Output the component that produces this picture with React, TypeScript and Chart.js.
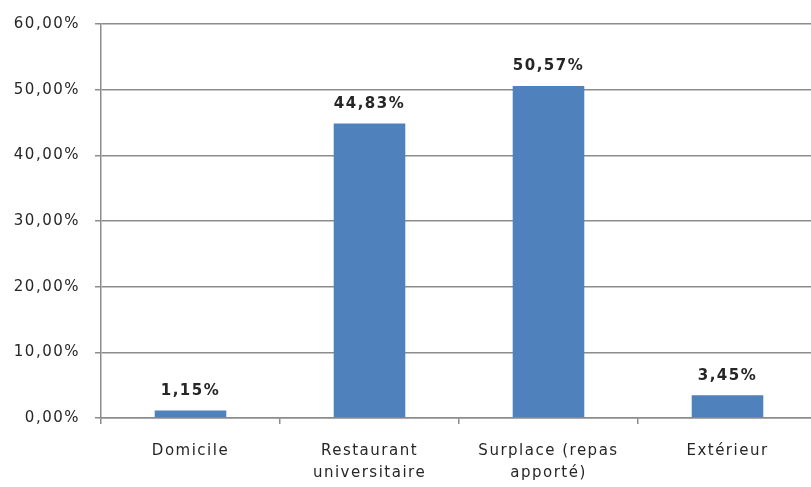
import React, { useEffect, useRef } from "react";
import { Chart, registerables } from "chart.js";

Chart.register(...registerables);

const categories: (string | string[])[] = [
  "Domicile",
  ["Restaurant", "universitaire"],
  ["Surplace (repas", "apporté)"],
  "Extérieur",
];
const values: number[] = [1.15, 44.83, 50.57, 3.45];
const yMin = 0;
const yMax = 60;
const yStep = 10;

const fmt = (v: number) => v.toFixed(2).replace(".", ",") + "%";

const FONT = "'DejaVu Sans', Verdana, sans-serif";
const TEXT = "#262626";
const GRID = "#8c8c8c";
const BAR = "#4f81bd";

const spacingPlugin = {
  id: "spacing",
  beforeUpdate(chart: any) {
    chart.ctx.letterSpacing = "1.5px";
  },
  beforeDraw(chart: any) {
    chart.ctx.letterSpacing = "1.5px";
  },
};

const labelPlugin = {
  id: "valueLabels",
  afterDatasetsDraw(chart: any) {
    const ctx = chart.ctx;
    const meta = chart.getDatasetMeta(0);
    const data = chart.data.datasets[0].data as number[];
    ctx.save();
    ctx.letterSpacing = "1.5px";
    ctx.font = `bold 15px ${FONT}`;
    ctx.fillStyle = TEXT;
    ctx.textAlign = "center";
    ctx.textBaseline = "bottom";
    meta.data.forEach((bar: any, i: number) => {
      ctx.fillText(fmt(data[i]), bar.x, bar.y - 12);
    });
    ctx.restore();
  },
};

export default function App() {
  const ref = useRef<HTMLCanvasElement | null>(null);
  useEffect(() => {
    if (!ref.current) return;
    const chart = new Chart(ref.current, {
      type: "bar",
      data: {
        labels: categories,
        datasets: [
          {
            data: values,
            backgroundColor: BAR,
            barPercentage: 0.4,
            categoryPercentage: 1,
          },
        ],
      },
      options: {
        animation: false,
        responsive: false,
        maintainAspectRatio: false,
        layout: { padding: { top: 24, right: 4, left: 0, bottom: 0 } },
        plugins: { legend: { display: false }, tooltip: { enabled: false } },
        scales: {
          x: {
            border: { display: true, color: GRID, width: 1.5 },
            grid: {
              drawOnChartArea: false,
              drawTicks: true,
              tickLength: 6,
              color: GRID,
              lineWidth: 1.5,
            },
            ticks: {
              color: TEXT,
              font: { family: FONT, size: 15, lineHeight: 1.45 },
              padding: 16,
              maxRotation: 0,
              autoSkip: false,
            },
            afterFit(scale: any) {
              scale.height = 69;
            },
          },
          y: {
            min: yMin,
            max: yMax,
            border: { display: true, color: GRID, width: 1.5 },
            grid: {
              color: GRID,
              lineWidth: 1.5,
              drawTicks: true,
              tickLength: 6,
            },
            ticks: {
              stepSize: yStep,
              color: TEXT,
              font: { family: FONT, size: 15 },
              padding: 15,
              callback: (v: any) => fmt(Number(v)),
            },
            afterFit(scale: any) {
              scale.width = 101;
            },
          },
        },
      },
      plugins: [spacingPlugin, labelPlugin],
    });
    return () => chart.destroy();
  }, []);
  return (
    <div
      style={{
        position: "fixed",
        left: 0,
        top: 0,
        width: 811,
        height: 487,
        overflow: "hidden",
        background: "#fff",
      }}
    >
      <canvas ref={ref} width={821} height={487} style={{ display: "block" }} />
    </div>
  );
}
